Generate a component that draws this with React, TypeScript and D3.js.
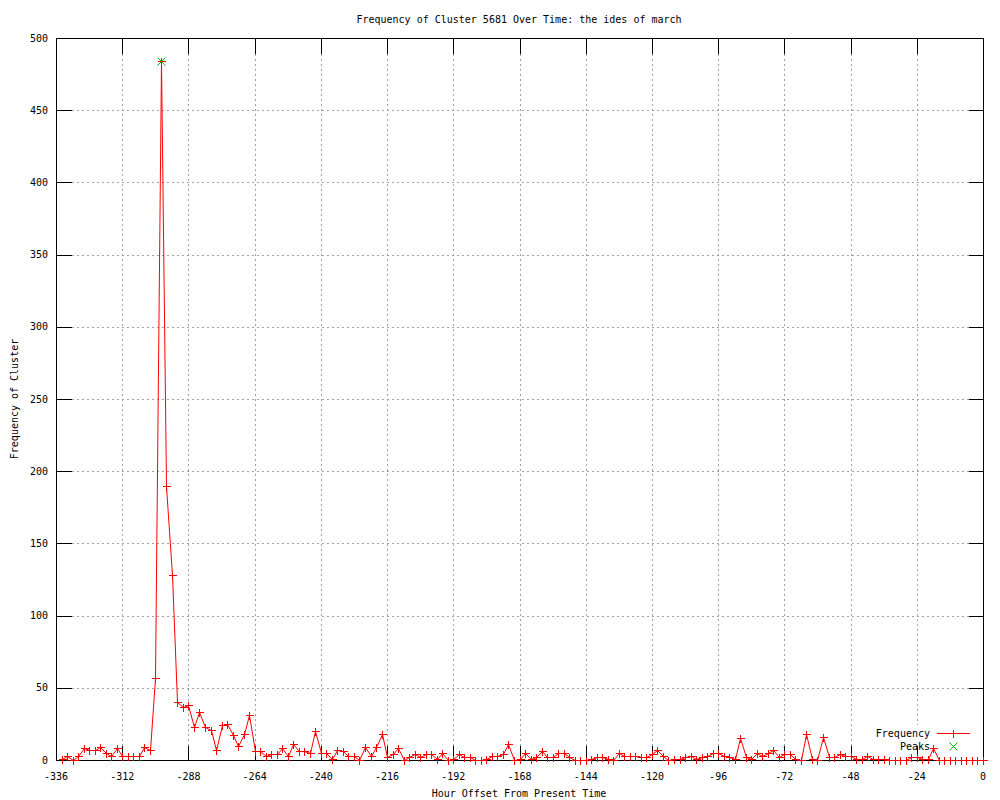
import React, { useEffect, useRef } from "react";
import * as d3 from "d3";

// hour offsets (every 2 hours)
const hours: number[] = [
  -334, -332, -330, -328, -326, -324, -322, -320, -318, -316, -314, -312,
  -310, -308, -306, -304, -302, -300, -298, -296, -294, -292, -290, -288,
  -286, -284, -282, -280, -278, -276, -274, -272, -270, -268, -266, -264,
  -262, -260, -258, -256, -254, -252, -250, -248, -246, -244, -242, -240,
  -238, -236, -234, -232, -230, -228, -226, -224, -222, -220, -218, -216,
  -214, -212, -210, -208, -206, -204, -202, -200, -198, -196, -194, -192,
  -190, -188, -186, -184, -182, -180, -178, -176, -174, -172, -170, -168,
  -166, -164, -162, -160, -158, -156, -154, -152, -150, -148, -146, -144,
  -142, -140, -138, -136, -134, -132, -130, -128, -126, -124, -122, -120,
  -118, -116, -114, -112, -110, -108, -106, -104, -102, -100, -98, -96,
  -94, -92, -90, -88, -86, -84, -82, -80, -78, -76, -74, -72,
  -70, -68, -66, -64, -62, -60, -58, -56, -54, -52, -50, -48,
  -46, -44, -42, -40, -38, -36, -34, -32, -30, -28, -26, -24,
  -22, -20, -18, -16, -14, -12, -10, -8, -6, -4, -2, 0,
];

const frequency: number[] = [
  1, 3, 0, 3, 8, 7, 7, 9, 5, 3, 8, 3,
  3, 3, 3, 9, 7, 57, 484, 190, 128, 40, 37, 38,
  23, 33, 23, 21, 7, 24, 25, 17, 10, 18, 31, 6,
  6, 3, 4, 4, 8, 3, 11, 6, 6, 5, 20, 5,
  5, 1, 7, 6, 3, 3, 0, 9, 3, 9, 18, 2,
  4, 8, 0, 2, 4, 2, 4, 4, 1, 5, 0, 1,
  4, 2, 2, 0, 0, 1, 3, 3, 4, 11, 0, 1,
  5, 1, 2, 6, 2, 2, 5, 5, 2, 0, 0, 0,
  1, 2, 2, 1, 0, 5, 3, 3, 3, 2, 2, 4,
  7, 3, 0, 1, 1, 2, 3, 1, 2, 3, 5, 5,
  3, 2, 1, 15, 2, 1, 5, 3, 5, 7, 2, 4,
  4, 1, 0, 18, 1, 0, 16, 2, 2, 4, 3, 3,
  1, 1, 3, 1, 1, 1, 0, 0, 0, 0, 2, 2,
  1, 1, 8, 0, 0, 0, 0, 0, 0, 0, 0, 0,
];

const peakHours: number[] = [-298];
const peakValues: number[] = [484];

const xTicks: number[] = [-336, -312, -288, -264, -240, -216, -192, -168, -144, -120, -96, -72, -48, -24, 0];
const yTicks: number[] = [0, 50, 100, 150, 200, 250, 300, 350, 400, 450, 500];

const legendNames: string[] = ["Frequency", "Peaks"];

const title = "Frequency of Cluster 5681 Over Time: the ides of march";
const xLabel = "Hour Offset From Present Time";
const yLabel = "Frequency of Cluster";

const FONT = "'DejaVu Sans Mono', monospace";
const RED = "rgb(255,0,0)";
const GREEN = "rgb(0,192,0)";

const Chart = () => {
  const svgRef = useRef<SVGSVGElement>(null);

  useEffect(() => {
    const width = 1000;
    const height = 800;
    const margin = { top: 38, right: 17, bottom: 40, left: 56 };
    const tickLen = 15;

    const svg = d3.select(svgRef.current);
    svg.selectAll("*").remove();

    const x = d3.scaleLinear().domain([-336, 0]).range([margin.left, width - margin.right]);
    const y = d3.scaleLinear().domain([0, 500]).range([height - margin.bottom, margin.top]);
    const px = (v: number) => Math.round(x(v)) + 0.5;
    const py = (v: number) => Math.round(y(v)) + 0.5;

    svg.append("rect").attr("width", width).attr("height", height).attr("fill", "#fff");

    // grid
    const grid = svg.append("g").attr("stroke", "#a0a0a0").attr("stroke-dasharray", "2,3").attr("shape-rendering", "crispEdges");
    grid.selectAll("line.gx")
      .data(xTicks.slice(1, -1))
      .join("line")
      .attr("class", "gx")
      .attr("x1", (d) => px(d)).attr("x2", (d) => px(d))
      .attr("y1", py(0)).attr("y2", py(500));
    grid.selectAll("line.gy")
      .data(yTicks.slice(1, -1))
      .join("line")
      .attr("class", "gy")
      .attr("y1", (d) => py(d)).attr("y2", (d) => py(d))
      .attr("x1", px(-336)).attr("x2", px(0));

    // key area blanks the grid
    svg.append("rect").attr("x", 866).attr("y", 725).attr("width", 112).attr("height", 29).attr("fill", "#fff");

    // border and tics
    const axes = svg.append("g").attr("stroke", "#000").attr("fill", "none").attr("shape-rendering", "crispEdges");
    axes.append("rect")
      .attr("x", px(-336)).attr("y", py(500))
      .attr("width", px(0) - px(-336)).attr("height", py(0) - py(500));
    xTicks.forEach((t) => {
      axes.append("line").attr("x1", px(t)).attr("x2", px(t)).attr("y1", py(0)).attr("y2", py(0) - tickLen);
      axes.append("line").attr("x1", px(t)).attr("x2", px(t)).attr("y1", py(500)).attr("y2", py(500) + tickLen);
    });
    yTicks.forEach((t) => {
      axes.append("line").attr("y1", py(t)).attr("y2", py(t)).attr("x1", px(-336)).attr("x2", px(-336) + tickLen);
      axes.append("line").attr("y1", py(t)).attr("y2", py(t)).attr("x1", px(0)).attr("x2", px(0) - tickLen);
    });

    const text = svg.append("g").attr("font-family", FONT).attr("font-size", 10).attr("fill", "#000");
    text.selectAll("text.xt")
      .data(xTicks)
      .join("text")
      .attr("class", "xt")
      .attr("x", (d) => x(d))
      .attr("y", 780)
      .attr("text-anchor", "middle")
      .text((d) => String(d));
    text.selectAll("text.yt")
      .data(yTicks)
      .join("text")
      .attr("class", "yt")
      .attr("x", 48)
      .attr("y", (d) => y(d) + 3.5)
      .attr("text-anchor", "end")
      .text((d) => String(d));
    text.append("text").attr("x", 519).attr("y", 22.5).attr("text-anchor", "middle").text(title);
    text.append("text").attr("x", 519).attr("y", 797).attr("text-anchor", "middle").text(xLabel);
    text.append("text")
      .attr("transform", `translate(17.5,399) rotate(-90)`)
      .attr("text-anchor", "middle")
      .text(yLabel);

    // legend text
    text.selectAll("text.lg")
      .data(legendNames)
      .join("text")
      .attr("class", "lg")
      .attr("x", 930)
      .attr("y", (d, i) => 736.5 + i * 13)
      .attr("text-anchor", "end")
      .text((d) => d);

    // frequency line
    const pts = hours.map((h, i) => [h, frequency[i]] as [number, number]);
    const line = d3.line<[number, number]>().x((d) => px(d[0])).y((d) => py(d[1]));
    const plus = (cx: number, cy: number) => `M${cx - 4},${cy}H${cx + 4}M${cx},${cy - 4}V${cy + 4}`;
    const cross = (cx: number, cy: number) => `M${cx - 4},${cy - 4}L${cx + 4},${cy + 4}M${cx - 4},${cy + 4}L${cx + 4},${cy - 4}`;

    const red = svg.append("g").attr("fill", "none").style("stroke", RED).style("stroke-width", 1);
    red.append("path").datum(pts).attr("d", line);
    red.append("path").attr("d", "M937,733.5H970").attr("shape-rendering", "crispEdges");

    const redPts = svg.append("g").attr("fill", "none").style("stroke", RED).attr("shape-rendering", "crispEdges");
    redPts.selectAll("path")
      .data(pts)
      .join("path")
      .attr("d", (d) => plus(px(d[0]), py(d[1])));
    redPts.append("path").attr("d", plus(953.5, 733.5));

    const green = svg.append("g").attr("fill", "none").style("stroke", GREEN);
    green.selectAll("path")
      .data(peakHours.map((h, i) => [h, peakValues[i]] as [number, number]))
      .join("path")
      .attr("d", (d) => cross(px(d[0]), py(d[1])));
    green.append("path").attr("d", cross(953.5, 746.5));
  }, []);

  return <svg ref={svgRef} width={1000} height={800} style={{ position: "absolute", left: 0, top: 0 }}></svg>;
};

export default function App() {
  return <Chart />;
}
